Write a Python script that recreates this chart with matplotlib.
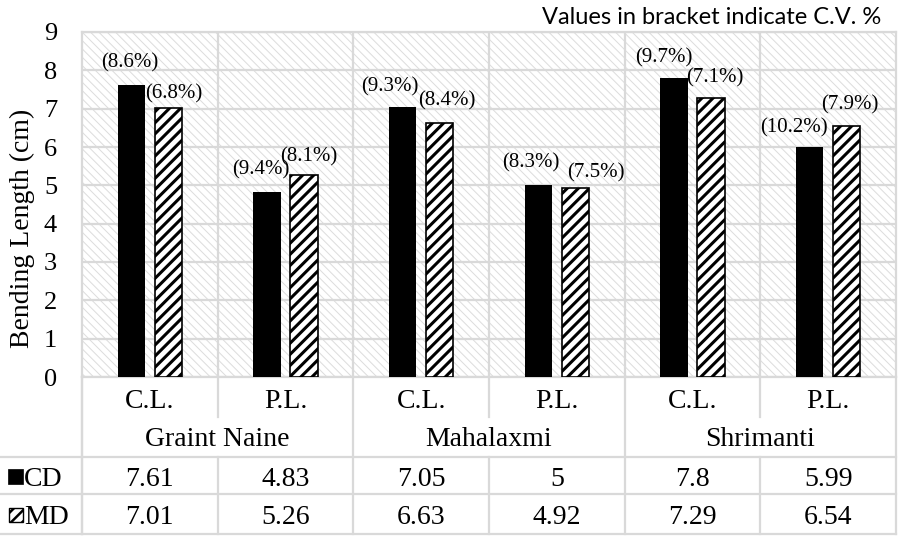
import matplotlib
matplotlib.use('Agg')
import matplotlib.pyplot as plt
import numpy as np
from matplotlib.patches import Rectangle
from matplotlib.lines import Line2D
from matplotlib.transforms import blended_transform_factory

# data
groups = ['Graint Naine', 'Mahalaxmi', 'Shrimanti']
subcats = ['C.L.', 'P.L.', 'C.L.', 'P.L.', 'C.L.', 'P.L.']
cd = [7.61, 4.83, 7.05, 5, 7.8, 5.99]
md = [7.01, 5.26, 6.63, 4.92, 7.29, 6.54]
cd_cv = ['8.6', '9.4', '9.3', '8.3', '9.7', '10.2']
md_cv = ['6.8', '8.1', '8.4', '7.5', '7.1', '7.9']

# label nudges (pixels) like the hand-placed excel labels
cd_nudge = [(-1.5, 22), (-6.5, 22), (-12.5, 20), (-7.5, 22), (-10.5, 20), (-15.5, 20)]
md_nudge = [(5.5, 14), (4.5, 19), (7.5, 22), (20.5, 16), (3.5, 20), (3.5, 21)]

plt.rcParams['font.family'] = ['Liberation Serif', 'DejaVu Serif']
grey = '#d9d9d9'
W, H = 898, 537

def fy(ypx):
    return 1 - ypx / H

def hatch_lw(p, lw):
    if hasattr(p, 'set_hatch_linewidth'):
        p.set_hatch_linewidth(lw)

fig = plt.figure(figsize=(W / 100, H / 100), dpi=100)
ax = fig.add_axes([82 / W, fy(377), 814 / W, 345 / H])
ax.set_facecolor('white')

x = np.arange(len(cd))
ax.set_xlim(-0.5, len(cd) - 0.5)
ax.set_ylim(0, 9)

# hatched background
with plt.rc_context({'hatch.linewidth': 0.7}):
    bg = Rectangle((0, 0), 1, 1, transform=ax.transAxes, facecolor='white',
                   edgecolor='#dcdcdc', lw=0, hatch='\\\\\\\\', zorder=0)
hatch_lw(bg, 0.7)
ax.add_patch(bg)

ax.set_yticks(range(10))
ax.yaxis.grid(True, color=grey, lw=1.6, zorder=1)
ax.set_axisbelow(True)
for b in np.arange(0.5, len(cd) - 1, 1):
    ax.axvline(b, color=grey, lw=1.6, zorder=1)
for s in ax.spines.values():
    s.set_color(grey)
    s.set_linewidth(1.6)
ax.set_xticks([])
ax.tick_params(axis='y', length=0, pad=18, labelsize=19)

ax.bar(x - 0.136, cd, width=0.2, color='black', zorder=3)
with plt.rc_context({'hatch.linewidth': 2.2}):
    mdbars = ax.bar(x + 0.136, md, width=0.2, facecolor='white', edgecolor='black',
                    hatch='///', lw=1.2, zorder=3)
for p in mdbars:
    hatch_lw(p, 2.2)

for i in range(len(cd)):
    ax.annotate('(' + cd_cv[i] + '%)', (x[i] - 0.136, cd[i]), xytext=cd_nudge[i],
                textcoords='offset pixels', ha='center', va='center', fontsize=15, zorder=4)
    ax.annotate('(' + md_cv[i] + '%)', (x[i] + 0.136, md[i]), xytext=md_nudge[i],
                textcoords='offset pixels', ha='center', va='center', fontsize=15, zorder=4)

fig.text(22 / W, fy(228), 'Bending Length (cm)', rotation=90, ha='center', va='center', fontsize=20)
fig.text(881 / W, fy(17), 'Values in bracket indicate C.V. %', ha='right', va='center',
         fontsize=17, family=['Lato', 'DejaVu Sans'])

# data table under the chart
tr = blended_transform_factory(ax.transData, fig.transFigure)
for yp in [457, 494, 534]:
    fig.add_artist(Line2D([0, 896 / W], [fy(yp), fy(yp)], color=grey, lw=1.6, transform=fig.transFigure))
fig.add_artist(Line2D([82 / W, 82 / W], [fy(377), fy(534)], color=grey, lw=1.6, transform=fig.transFigure))
for k in range(len(cd) + 1):
    b = k - 0.5
    if k % 2 == 0:
        fig.add_artist(Line2D([b, b], [fy(377), fy(534)], color=grey, lw=1.6, transform=tr))
    else:
        fig.add_artist(Line2D([b, b], [fy(377), fy(417)], color=grey, lw=1.6, transform=tr))
        fig.add_artist(Line2D([b, b], [fy(457), fy(534)], color=grey, lw=1.6, transform=tr))

for i in range(len(cd)):
    fig.text(x[i], fy(401), subcats[i], transform=tr, ha='center', va='center', fontsize=20)
    fig.text(x[i], fy(479), '{:g}'.format(cd[i]), transform=tr, ha='center', va='center', fontsize=20)
    fig.text(x[i], fy(517), '{:g}'.format(md[i]), transform=tr, ha='center', va='center', fontsize=20)
for g in range(len(groups)):
    fig.text(2 * g + 0.5, fy(440), groups[g], transform=tr, ha='center', va='center', fontsize=20)

# legend keys
fig.add_artist(Rectangle((8 / W, fy(484)), 15 / W, 15 / H, transform=fig.transFigure,
                         facecolor='black', edgecolor='black', lw=0.5))
with plt.rc_context({'hatch.linewidth': 1.8}):
    key = Rectangle((9 / W, fy(522)), 14 / W, 14 / H, transform=fig.transFigure,
                    facecolor='white', edgecolor='black', lw=1, hatch='///')
hatch_lw(key, 1.8)
fig.add_artist(key)
fig.text(24 / W, fy(479), 'CD', ha='left', va='center', fontsize=20)
fig.text(24 / W, fy(517), 'MD', ha='left', va='center', fontsize=20)

fig.savefig('out.png', dpi=100)
